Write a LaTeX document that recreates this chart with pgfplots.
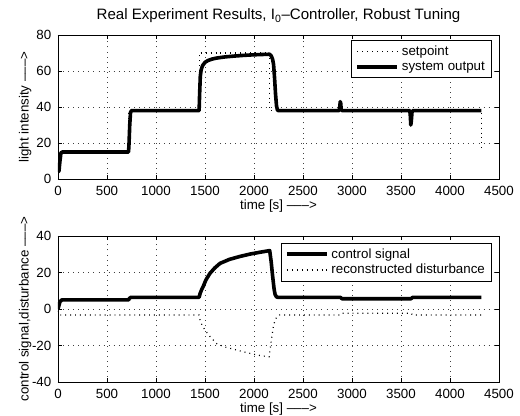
\documentclass[border=0pt]{standalone}
\usepackage{fontspec}
\setmainfont{Liberation Sans}
\usepackage{pgfplots}
\pgfplotsset{compat=1.18}

\pgfplotsset{
  mlaxis/.style={
    scale only axis,
    width=330.75pt,
    xmin=0, xmax=4500,
    xtick={0,500,...,4500},
    scaled x ticks=false,
    /pgf/number format/assume math mode=true,
    /pgf/number format/1000 sep={},
    font=\fontsize{10}{12}\selectfont,
    tick label style={font=\fontsize{10}{12}\selectfont},
    axis line style={line width=0.6pt},
    tick style={line width=0.5pt, black},
    tick align=inside,
    major tick length=3pt,
    xtick pos=both, ytick pos=both,
    grid=major,
    major grid style={line width=0.5pt, black!75, dash pattern=on 0.6pt off 3.2pt},
    xticklabel style={yshift=-1.5pt},
    yticklabel style={xshift=-1.5pt},
    xlabel={time [s] \textendash\textendash\textendash>},
    xlabel style={at={(axis description cs:0.5,0)}, anchor=base, yshift=-23pt},
    ylabel style={at={(axis description cs:0,0.5)}, anchor=base, rotate=0, yshift=22pt},
    legend cell align=left,
    legend style={draw=black, line width=0.6pt, fill=white,
      font=\fontsize{10}{12}\selectfont, inner xsep=3pt, inner ysep=2pt,
      row sep=-1pt},
    legend image code/.code={\draw[#1] (0pt,0pt) -- (30pt,0pt);},
  },
  thickline/.style={black, line width=2.7pt, line join=round},
  dotline/.style={black, line width=0.9pt, dash pattern=on 0.7pt off 3pt},
}

\begin{document}
\begin{tikzpicture}
\useasboundingbox (0,0) rectangle (390pt,312pt);

% ---------- upper panel: light intensity ----------
\begin{axis}[mlaxis,
  at={(43.5pt,177.75pt)}, anchor=south west,
  height=108pt,
  ymin=0, ymax=80, ytick={0,20,...,80},
  ylabel={light intensity \textendash\textendash\textendash>},
  title={Real Experiment Results, I\textsubscript{0}\textendash Controller, Robust Tuning},
  title style={at={(axis description cs:0.5,1)}, anchor=base, yshift=5.4pt,
    font=\fontsize{11.3}{13}\selectfont},
  legend style={at={(axis description cs:0.984,0.965)}, anchor=north east},
]
\addplot[dotline] coordinates {
  (0,15) (720,15) (720,38) (1440,38) (1440,70) (2160,70) (2160,38)
  (4320,38) (4320,15)
};
\addlegendentry{setpoint}
\addplot[thickline] coordinates {
  (0,4) (10,4.5) (20,10) (30,14.5) (45,15) (720,15) (725,20) (732,30)
  (740,37) (750,38) (1440,38) (1445,47) (1452,57) (1460,60.5) (1475,63)
  (1500,64.8) (1530,65.8) (1570,66.6) (1620,67.2) (1700,67.8) (1800,68.3)
  (1900,68.7) (2000,69) (2100,69.2) (2160,69.3) (2175,68.5) (2190,66.5)
  (2200,63.5) (2210,56) (2220,47) (2230,40.5) (2240,38.2) (2250,38)
  (2870,38) (2875,40) (2880,43) (2885,42) (2890,38.5) (2900,38)
  (3590,38) (3595,35) (3600,30) (3605,32) (3612,37) (3620,38) (4320,38)
};
\addlegendentry{system output}
\end{axis}

% ---------- lower panel: control signal and disturbance ----------
\begin{axis}[mlaxis,
  at={(43.5pt,25.5pt)}, anchor=south west,
  height=109.5pt,
  ymin=-40, ymax=40, ytick={-40,-20,...,40},
  ylabel={control signal,disturbance \textendash\textendash\textendash>},
  legend style={at={(axis description cs:0.984,0.954)}, anchor=north east},
]
\addplot[thickline] coordinates {
  (0,0) (10,2) (20,4) (40,5) (720,5) (730,5.9) (745,6.4) (1440,6.4)
  (1450,8.5) (1465,10.5) (1483,12.5) (1510,16) (1550,19.5) (1600,22.5)
  (1653,25) (1750,27.2) (1857,28.8) (1960,30.1) (2061,31.1) (2160,32)
  (2175,26) (2190,18) (2205,11) (2215,8) (2230,6.6) (2245,6.4)
  (2880,6.4) (2900,5.6) (3600,5.6) (3620,6.4) (4320,6.4)
};
\addlegendentry{control signal}
\addplot[dotline] coordinates {
  (0,-1) (20,-3.3) (1440,-3.3) (1450,-6) (1470,-9) (1500,-11.5)
  (1550,-15) (1620,-19) (1700,-20.8) (1790,-22) (1860,-23) (1950,-24.2)
  (2030,-25.2) (2100,-25.8) (2155,-26.2) (2165,-22) (2180,-16)
  (2197,-9.7) (2215,-6) (2235,-4.2) (2260,-3.3) (2880,-3.3) (2900,-2.3)
  (3600,-2.3) (3620,-3.3) (4320,-3.3)
};
\addlegendentry{reconstructed disturbance}
\end{axis}
\end{tikzpicture}
\end{document}
